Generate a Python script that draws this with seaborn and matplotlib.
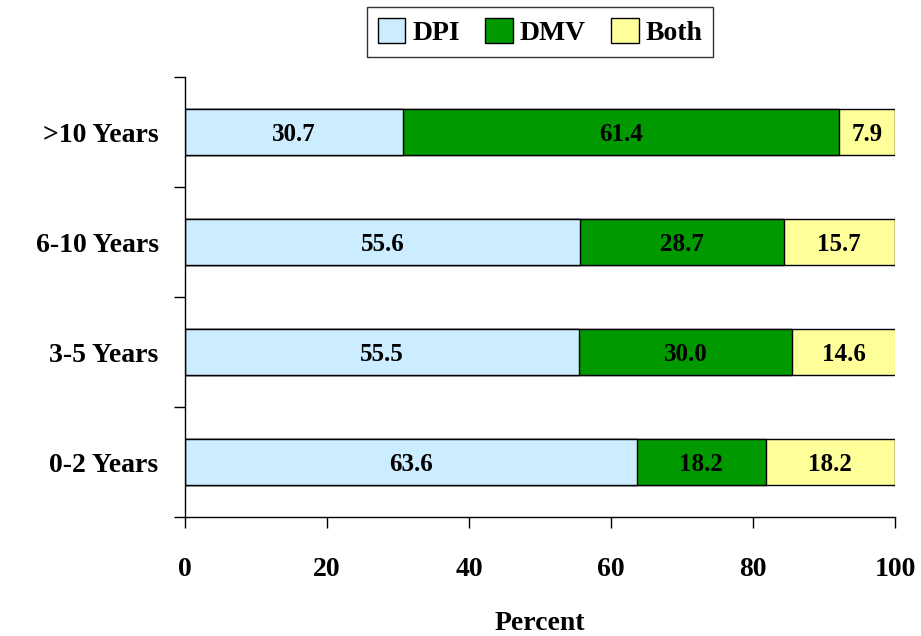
import matplotlib
matplotlib.use("Agg")
import matplotlib.pyplot as plt
from matplotlib.patches import Patch
from matplotlib.ticker import FixedLocator
import numpy as np
import pandas as pd
import seaborn as sns

# Survey shares by length of residence (percent)
categories = [">10 Years", "6-10 Years", "3-5 Years", "0-2 Years"]
series_names = ["DPI", "DMV", "Both"]
dpi = [30.7, 55.6, 55.5, 63.6]
dmv = [61.4, 28.7, 30.0, 18.2]
both = [7.9, 15.7, 14.6, 18.2]
colors = ["#CCECFF", "#009900", "#FFFF99"]
x_ticks = [0, 20, 40, 60, 80, 100]

sns.set_theme(style="ticks")
plt.rcParams["font.family"] = ["Liberation Serif", "DejaVu Serif"]
plt.rcParams["font.weight"] = "bold"
plt.rcParams["text.color"] = "black"
plt.rcParams["axes.labelcolor"] = "black"
plt.rcParams["xtick.color"] = "black"
plt.rcParams["ytick.color"] = "black"

df = pd.DataFrame({"Category": categories, "DPI": dpi, "DMV": dmv, "Both": both})
df["cum_dpi"] = df["DPI"]
df["cum_dmv"] = df["DPI"] + df["DMV"]
df["cum_both"] = df["DPI"] + df["DMV"] + df["Both"]

fig = plt.figure(figsize=(9.21, 6.36), dpi=100)
ax = fig.add_axes([185 / 921, 1 - 517 / 636, (895 - 185) / 921, (517 - 77) / 636])

# Stack by overlaying cumulative totals, widest first
for col, color in zip(["cum_both", "cum_dmv", "cum_dpi"], colors[::-1]):
    sns.barplot(data=df, x=col, y="Category", order=categories, color=color,
                width=0.41, edgecolor="black", linewidth=1.0, orient="h",
                saturation=1, ax=ax)

# Value labels centred in each segment
for i, cat in enumerate(categories):
    starts = [0, dpi[i], dpi[i] + dmv[i]]
    vals = [dpi[i], dmv[i], both[i]]
    for s, v in zip(starts, vals):
        ax.text(s + v / 2, i, f"{v:.1f}", ha="center", va="center_baseline",
                fontsize=18, fontweight="bold", color="black")

ax.set_xlim(0, 100)
ax.set_ylim(3.5, -0.5)
ax.xaxis.set_major_locator(FixedLocator(x_ticks))
ax.set_xticklabels([str(t) for t in x_ticks], fontsize=20, fontweight="bold")
ax.tick_params(axis="x", direction="out", length=8, width=1, pad=21, color="black")
ax.set_yticks(range(len(categories)))
ax.set_yticklabels(categories, fontsize=20, fontweight="bold")
ax.yaxis.set_minor_locator(FixedLocator(np.arange(-0.5, len(categories), 1.0)))
ax.tick_params(axis="y", which="major", length=0, pad=19)
ax.tick_params(axis="y", which="minor", direction="out", length=8, width=1, color="black")
ax.set_xlabel("Percent", fontsize=20, fontweight="bold", labelpad=21)
ax.set_ylabel("")

for side in ["top", "right"]:
    ax.spines[side].set_visible(False)
for side in ["left", "bottom"]:
    ax.spines[side].set_color("black")
    ax.spines[side].set_linewidth(1)

handles = [Patch(facecolor=c, edgecolor="black", linewidth=1) for c in colors]
leg = ax.legend(handles, series_names, loc="upper center", bbox_to_anchor=(0.5, 1.19),
                ncol=3, frameon=True, fancybox=False, edgecolor="black",
                prop={"size": 20, "weight": "bold"}, handlelength=1.0, handleheight=1.0,
                handletextpad=0.25, columnspacing=0.9, borderpad=0.4)
leg.get_frame().set_linewidth(1)

fig.savefig("out.png", dpi=100, facecolor="white")
